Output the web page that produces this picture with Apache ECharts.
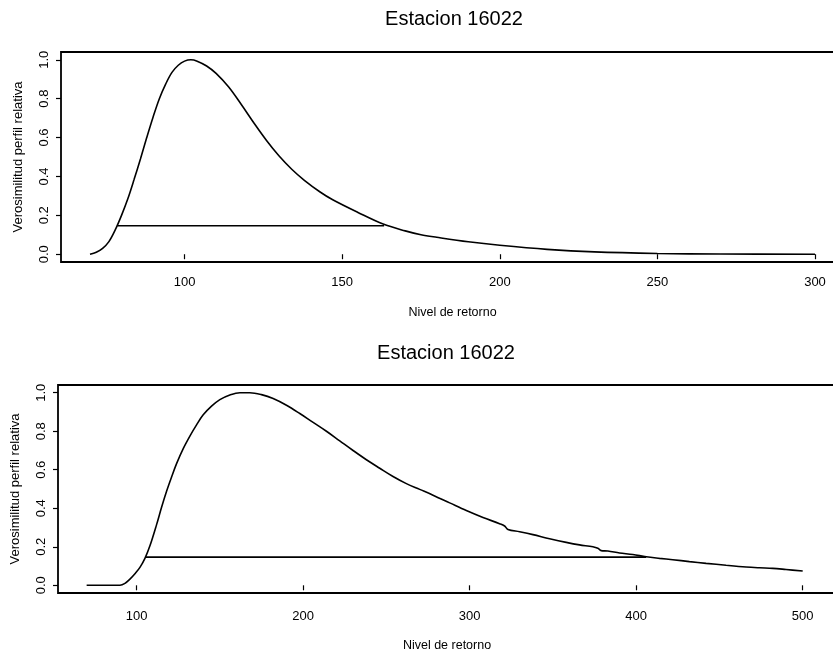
<!DOCTYPE html>
<html><head><meta charset="utf-8">
<script src="https://cdn.jsdelivr.net/npm/echarts@6/dist/echarts.min.js"></script>
<style>html,body{margin:0;padding:0;background:#fff}#c{width:833px;height:655px}</style>
</head><body><div id="c"></div>
<script>
const titleText = 'Estacion 16022';
const xName = 'Nivel de retorno';
const yName = 'Verosimilitud perfil relativa';
const xTicks1 = [100, 150, 200, 250, 300];
const xTicks2 = [100, 200, 300, 400, 500];
const yTicks = [0, 0.2, 0.4, 0.6, 0.8, 1.0];

// Panel 1: relative profile likelihood vs return level
const nivel1 = [70, 72, 74, 76, 78, 80, 82, 84, 86, 88, 90, 92, 94, 96, 98, 100, 102, 104, 107, 110, 114, 118, 122, 126, 130, 134, 138, 143, 147, 155, 163, 170, 175, 180, 190, 200, 215, 230, 250, 270, 300];
const veros1 = [0.0, 0.01, 0.03, 0.065, 0.125, 0.20, 0.285, 0.385, 0.49, 0.60, 0.705, 0.80, 0.875, 0.935, 0.972, 0.993, 1.0, 0.993, 0.968, 0.93, 0.86, 0.77, 0.675, 0.585, 0.505, 0.437, 0.38, 0.32, 0.28, 0.215, 0.155, 0.12, 0.10, 0.087, 0.064, 0.046, 0.025, 0.012, 0.004, 0.001, 0.0];

// Panel 2
const nivel2 = [70, 80, 90, 93, 96, 99, 102, 105, 108, 112, 115, 118, 121, 124, 128, 132, 136, 140, 145, 150, 156, 162, 168, 175, 182, 190, 198, 206, 214, 222, 230, 238, 246, 254, 262, 270, 278, 288, 298, 308, 318, 321, 323, 330, 338, 348, 358, 366, 374, 377, 379, 383, 390, 398, 406, 414, 422, 432, 442, 454, 466, 474, 482, 490, 500];
const veros2 = [0.0, 0.0, 0.0, 0.01, 0.032, 0.06, 0.093, 0.14, 0.205, 0.315, 0.405, 0.488, 0.562, 0.632, 0.71, 0.775, 0.833, 0.885, 0.93, 0.964, 0.988, 1.0, 1.0, 0.99, 0.97, 0.935, 0.892, 0.846, 0.80, 0.75, 0.70, 0.652, 0.608, 0.565, 0.528, 0.498, 0.468, 0.428, 0.388, 0.352, 0.32, 0.308, 0.29, 0.278, 0.263, 0.242, 0.223, 0.21, 0.2, 0.192, 0.18, 0.178, 0.168, 0.16, 0.148, 0.14, 0.133, 0.123, 0.114, 0.104, 0.095, 0.091, 0.088, 0.082, 0.074];

// 95% confidence threshold and its crossings
const umbral = 0.1465;
const corte1 = [78.7, 163.3];
const corte2 = [105.5, 406];

const FONT = "'Liberation Sans', Arial, sans-serif";
const zip = (xs, ys) => xs.map((x, i) => [x, ys[i]]);

function xAxisCfg(idx, min, max, ticks, labelMargin, nameGap) {
  return {
    gridIndex: idx, type: 'value', min: min, max: max,
    axisLine: { show: false },
    axisTick: { show: true, customValues: ticks, length: 5, lineStyle: { color: '#000', width: 1.2 } },
    axisLabel: { customValues: ticks, color: '#000', fontSize: 13, fontFamily: FONT, margin: labelMargin },
    splitLine: { show: false },
    name: xName, nameLocation: 'middle', nameGap: nameGap,
    nameTextStyle: { color: '#000', fontSize: 12.5, fontFamily: FONT }
  };
}
function yAxisCfg(idx) {
  return {
    gridIndex: idx, type: 'value', min: -0.04, max: 1.04,
    axisLine: { show: false },
    axisTick: { show: true, customValues: yTicks, length: 5, lineStyle: { color: '#000', width: 1.2 } },
    axisLabel: { customValues: yTicks, rotate: 90, color: '#000', fontSize: 13, fontFamily: FONT, margin: 10,
      formatter: v => v.toFixed(1) },
    splitLine: { show: false },
    name: yName, nameLocation: 'middle', nameGap: 36, nameRotate: 90,
    nameTextStyle: { color: '#000', fontSize: 13, fontFamily: FONT }
  };
}

const chart = echarts.init(document.getElementById('c'), null, { renderer: 'canvas' });
chart.setOption({
  animation: false,
  backgroundColor: '#fff',
  graphic: [
    { type: 'text', x: 454, y: 19, style: { text: titleText, font: '20px ' + FONT, fill: '#000', textAlign: 'center', textVerticalAlign: 'middle' } },
    { type: 'text', x: 446, y: 353, style: { text: titleText, font: '20px ' + FONT, fill: '#000', textAlign: 'center', textVerticalAlign: 'middle' } }
  ],
  grid: [
    { left: 61, top: 52, width: 783, height: 210, show: true, borderColor: '#000', borderWidth: 1.8, backgroundColor: 'transparent', outerBoundsMode: 'none', containLabel: false },
    { left: 58, top: 385, width: 778, height: 208, show: true, borderColor: '#000', borderWidth: 1.8, backgroundColor: 'transparent', outerBoundsMode: 'none', containLabel: false }
  ],
  xAxis: [
    xAxisCfg(0, 60.8, 309.2, xTicks1, 14, 44),
    xAxisCfg(1, 52.8, 520, xTicks2, 17, 46)
  ],
  yAxis: [yAxisCfg(0), yAxisCfg(1)],
  series: [
    { type: 'line', xAxisIndex: 0, yAxisIndex: 0, data: zip(nivel1, veros1), smooth: 0.35, showSymbol: false,
      lineStyle: { color: '#000', width: 1.6 } },
    { type: 'line', xAxisIndex: 0, yAxisIndex: 0, data: [[corte1[0], umbral], [corte1[1], umbral]], showSymbol: false,
      lineStyle: { color: '#000', width: 1.6 } },
    { type: 'line', xAxisIndex: 1, yAxisIndex: 1, data: zip(nivel2, veros2), smooth: 0.35, showSymbol: false,
      lineStyle: { color: '#000', width: 1.6 } },
    { type: 'line', xAxisIndex: 1, yAxisIndex: 1, data: [[corte2[0], umbral], [corte2[1], umbral]], showSymbol: false,
      lineStyle: { color: '#000', width: 1.6 } }
  ]
});
</script>
</body></html>
